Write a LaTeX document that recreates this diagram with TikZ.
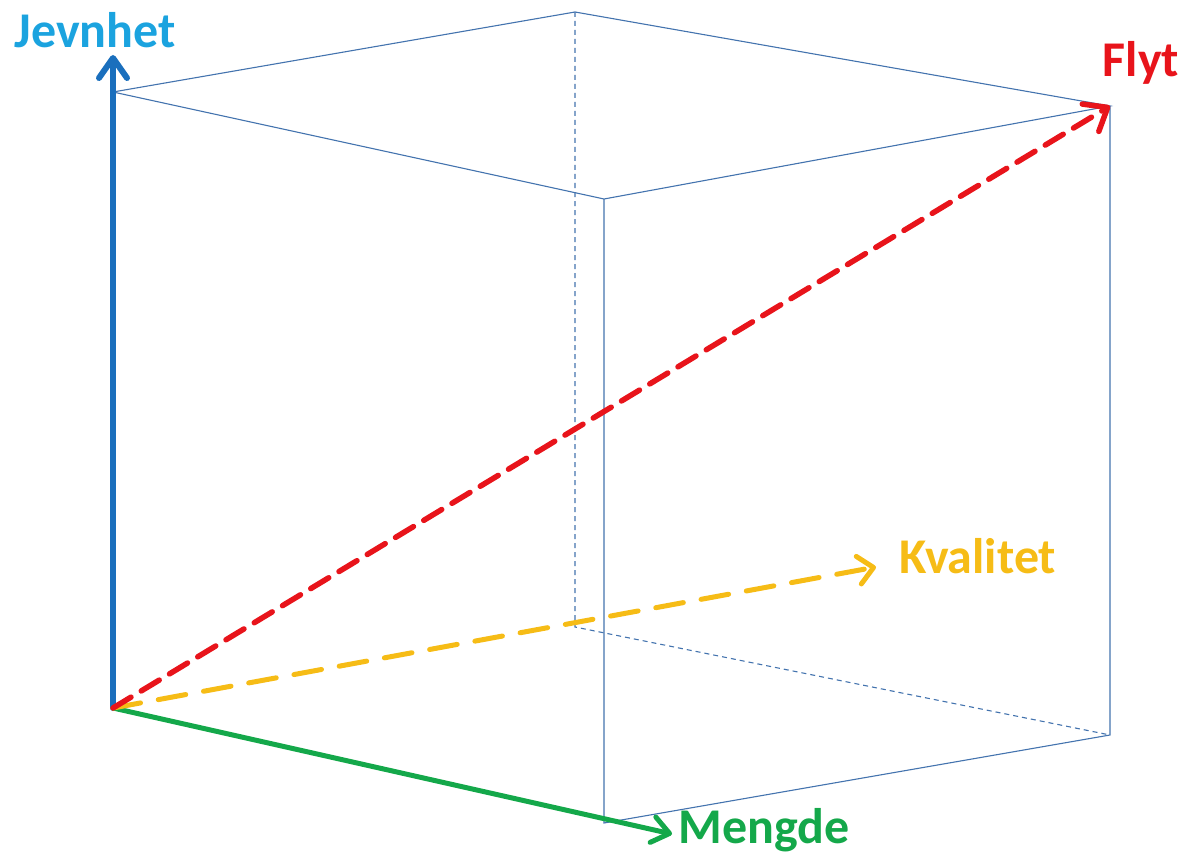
\documentclass[tikz,border=0pt]{standalone}
\usepackage{fontspec}
\setmainfont{Carlito}
\usetikzlibrary{arrows.meta}
\definecolor{cubeblue}{HTML}{4373AE}
\definecolor{axblue}{HTML}{1A6FBD}
\definecolor{txtblue}{HTML}{1BA3DF}
\definecolor{flyred}{HTML}{E8141B}
\definecolor{kvyellow}{HTML}{F6BC16}
\definecolor{mgreen}{HTML}{14A84A}
\tikzset{
  cube/.style={draw=cubeblue, line width=1.1pt},
  hidden/.style={draw=cubeblue, line width=1.1pt, dash pattern=on 5pt off 4pt},
  axis/.style={line width=#1, line cap=round},
  lbl/.style={font=\fontsize{50}{56}\selectfont\bfseries, inner sep=0pt, anchor=base}
}
\begin{document}
\begin{tikzpicture}[x=1pt,y=-1pt]
\useasboundingbox (0,0) rectangle (1186,856);
% cube corners
\coordinate (O) at (113,708);
\coordinate (A) at (113,92);
\coordinate (B) at (575,12);
\coordinate (C) at (1110,106);
\coordinate (D) at (604,199);
\coordinate (E) at (604,823);
\coordinate (F) at (1110,735);
\coordinate (G) at (575,627);
\coordinate (Jtip) at (113,55);
\coordinate (Mtip) at (672,834);
\coordinate (Ktip) at (876,567);
% cube edges
\draw[cube] (A) -- (B) -- (C) -- (D) -- cycle;
\draw[cube] (D) -- (E) -- (F) -- (C);
\draw[hidden] (B) -- (G) -- (F);
% axes
\draw[axis=6pt, draw=axblue, -{Straight Barb[length=20pt,width=28pt,round]}] (O) -- (Jtip);
\draw[axis=5pt, draw=mgreen, -{Straight Barb[length=17pt,width=26pt,round]}] (O) -- (Mtip);
\draw[axis=5pt, draw=kvyellow, dash pattern=on 28pt off 18pt, -{Straight Barb[length=15pt,width=28pt,round]}] (O) -- (Ktip);
\draw[axis=5.5pt, draw=flyred, dash pattern=on 21pt off 12pt, -{Straight Barb[length=20pt,width=32pt,round]}] (O) -- (C);
% labels
\node[lbl, text=txtblue] (jev) at (95,48) {Jevnhet};
\node[lbl, text=flyred] (fly) at (1141,77) {Flyt};
\node[lbl, text=kvyellow] (kva) at (978,573) {Kvalitet};
\node[lbl, text=mgreen] (men) at (764,843) {Mengde};
\end{tikzpicture}
\end{document}
